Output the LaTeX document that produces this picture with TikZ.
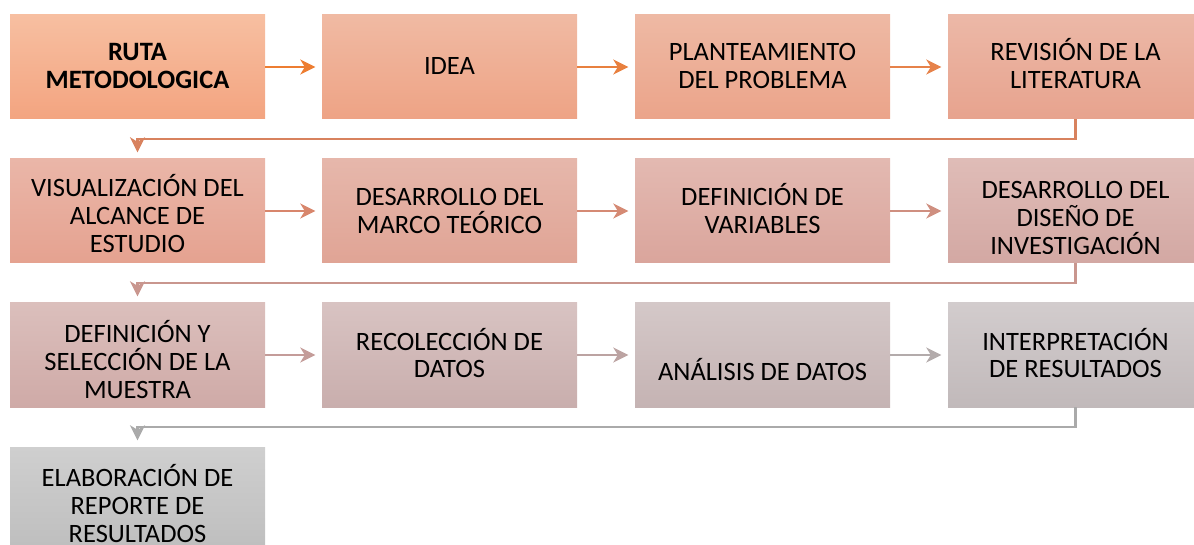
\documentclass[tikz,border=0pt]{standalone}
\usepackage{fontspec}
\setmainfont{Carlito}
\usetikzlibrary{arrows.meta}
\definecolor{t1}{HTML}{F7BFA1}\definecolor{u1}{HTML}{F3A480}
\definecolor{t2}{HTML}{F0BAA3}\definecolor{u2}{HTML}{EEA385}
\definecolor{t3}{HTML}{EEB9A4}\definecolor{u3}{HTML}{EBA48A}
\definecolor{t4}{HTML}{ECB8A7}\definecolor{u4}{HTML}{E7A38E}
\definecolor{t5}{HTML}{EAB6A8}\definecolor{u5}{HTML}{E5A290}
\definecolor{t6}{HTML}{E6B7AB}\definecolor{u6}{HTML}{E0A495}
\definecolor{t7}{HTML}{E3B9B1}\definecolor{u7}{HTML}{DAA59C}
\definecolor{t8}{HTML}{DFBCB7}\definecolor{u8}{HTML}{D3A8A3}
\definecolor{t9}{HTML}{DBBFBC}\definecolor{u9}{HTML}{CFAAA7}
\definecolor{t10}{HTML}{D8C3C2}\definecolor{u10}{HTML}{C9AEAD}
\definecolor{t11}{HTML}{D4C8C8}\definecolor{u11}{HTML}{C5B3B3}
\definecolor{t12}{HTML}{D2CCCD}\definecolor{u12}{HTML}{C1B9BA}
\definecolor{t13}{HTML}{CFCFCF}\definecolor{u13}{HTML}{BEBEBE}
\definecolor{a1}{HTML}{ED7D31}\definecolor{a2}{HTML}{E8803F}\definecolor{a3}{HTML}{E6824A}
\definecolor{c1}{HTML}{D8825E}
\definecolor{a4}{HTML}{D8866C}\definecolor{a5}{HTML}{D58A74}\definecolor{a6}{HTML}{CF8F80}
\definecolor{c2}{HTML}{C9968E}
\definecolor{a7}{HTML}{C49C99}\definecolor{a8}{HTML}{BCA3A2}\definecolor{a9}{HTML}{B3ABAB}
\definecolor{c3}{HTML}{AAAAAA}
\tikzset{
  box/.style={minimum width=255pt, minimum height=104pt, inner sep=0pt, shade, top color=t#1, bottom color=u#1},
  lbl/.style={anchor=base, inner sep=0pt, font=\fontsize{26.5}{28}\selectfont},
  flow/.style={line width=2.5pt, draw=#1, -{Stealth[length=15pt,width=15pt,inset=4.5pt]}, shorten >=6.5pt},
}
\newcommand{\lines}[1]{\parbox[t]{254pt}{\centering #1}}
\begin{document}
\begin{tikzpicture}[x=1pt,y=-1pt]
\useasboundingbox (0,0) rectangle (1194,545);
\clip (0,0) rectangle (1194,545);
% boxes
\node[box=1] (b1) at (137.5,67) {};
\node[box=2] (b2) at (449.5,67) {};
\node[box=3] (b3) at (762.5,67) {};
\node[box=4] (b4) at (1075.5,67) {};
\node[box=5] (b5) at (137.5,211) {};
\node[box=6] (b6) at (449.5,211) {};
\node[box=7] (b7) at (762.5,211) {};
\node[box=8] (b8) at (1075.5,211) {};
\node[box=9] (b9) at (137.5,355) {};
\node[box=10] (b10) at (449.5,355) {};
\node[box=11] (b11) at (762.5,355) {};
\node[box=12] (b12) at (1075.5,355) {};
\node[box=13] (b13) at (137.5,499) {};
% labels
\node[lbl] (l1) at (137.5,61) {\lines{\bfseries RUTA\\METODOLOGICA}};
\node[lbl] (l2) at (449.5,75) {\lines{IDEA}};
\node[lbl] (l3) at (762.5,61) {\lines{PLANTEAMIENTO\\DEL PROBLEMA}};
\node[lbl] (l4) at (1075.5,61) {\lines{REVISIÓN DE LA\\LITERATURA}};
\node[lbl] (l5) at (137.5,197) {\lines{VISUALIZACIÓN DEL\\ALCANCE DE\\ESTUDIO}};
\node[lbl] (l6) at (449.5,205.5) {\lines{DESARROLLO DEL\\MARCO TEÓRICO}};
\node[lbl] (l7) at (762.5,205.5) {\lines{DEFINICIÓN DE\\VARIABLES}};
\begin{scope}
\clip (948,159) rectangle (1203,254);
\node[lbl] (l8) at (1075.5,199) {\lines{DESARROLLO DEL\\DISEÑO DE\\INVESTIGACIÓN}};
\end{scope}
\node[lbl] (l9) at (137.5,342.5) {\lines{DEFINICIÓN Y\\SELECCIÓN DE LA\\MUESTRA}};
\node[lbl] (l10) at (449.5,350) {\lines{RECOLECCIÓN DE\\DATOS}};
\node[lbl] (l11) at (762.5,380) {\lines{ANÁLISIS DE DATOS}};
\node[lbl] (l12) at (1075.5,350) {\lines{INTERPRETACIÓN\\DE RESULTADOS}};
\node[lbl] (l13) at (137.5,486.5) {\lines{ELABORACIÓN DE\\REPORTE DE\\RESULTADOS}};
% connectors
\draw[flow=a1] (b1.east) -- (b2.west);
\draw[flow=a2] (b2.east) -- (b3.west);
\draw[flow=a3] (b3.east) -- (b4.west);
\draw[flow=c1] (b4.south) -- ++(0,20) -| (b5.north);
\draw[flow=a4] (b5.east) -- (b6.west);
\draw[flow=a5] (b6.east) -- (b7.west);
\draw[flow=a6] (b7.east) -- (b8.west);
\draw[flow=c2] (b8.south) -- ++(0,20) -| (b9.north);
\draw[flow=a7] (b9.east) -- (b10.west);
\draw[flow=a8] (b10.east) -- (b11.west);
\draw[flow=a9] (b11.east) -- (b12.west);
\draw[flow=c3] (b12.south) -- ++(0,20) -| (b13.north);
\end{tikzpicture}
\end{document}
